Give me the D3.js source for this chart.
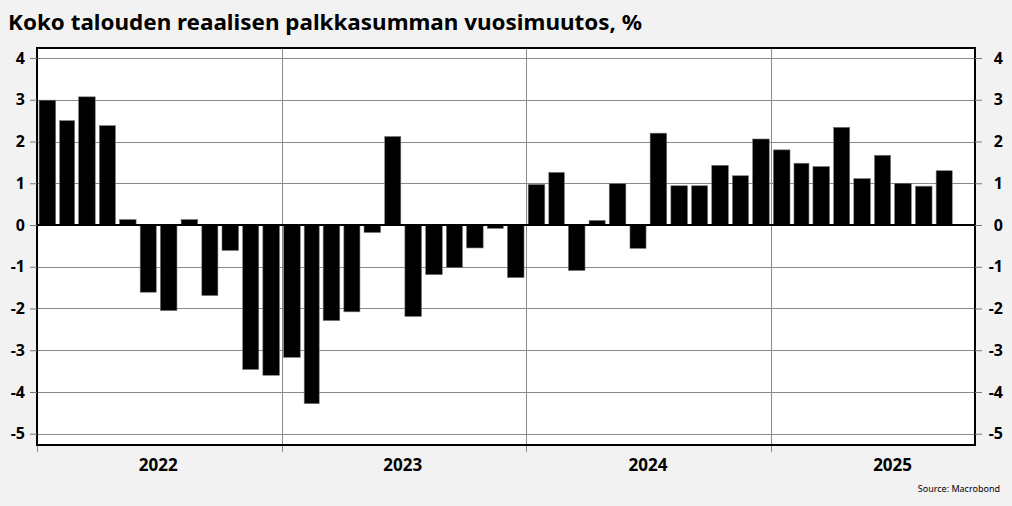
<!DOCTYPE html>
<html><head><meta charset="utf-8">
<script src="https://cdn.jsdelivr.net/npm/d3@7"></script>
<style>
body{margin:0;background:#f2f2f2;}
svg{display:block;}
text{font-family:"Noto Sans","Open Sans",sans-serif;}
</style></head>
<body><svg id="c" width="1012" height="506"></svg>
<script>
const title = "Koko talouden reaalisen palkkasumman vuosimuutos, %";
const source = "Source: Macrobond";
const months = d3.timeMonths(new Date(2022,0,1), new Date(2025,9,1));
const values = [2.99,2.50,3.07,2.38,0.13,-1.61,-2.05,0.13,-1.69,-0.61,-3.46,-3.60,
  -3.17,-4.28,-2.29,-2.08,-0.18,2.12,-2.19,-1.19,-1.02,-0.55,-0.08,-1.26,
  0.97,1.26,-1.09,0.11,0.99,-0.56,2.20,0.94,0.94,1.43,1.18,2.06,
  1.80,1.48,1.40,2.34,1.11,1.67,1.00,0.93,1.30];
const yTicks = [-5,-4,-3,-2,-1,0,1,2,3,4];
const yearLabels = ["2022","2023","2024","2025"];

const svg = d3.select("#c");
const L=37, R=975, T=48, B=445;
const x = d3.scaleTime().domain([new Date(2022,0,1), new Date(2025,10,1)]).range([L,R]);
const y = d3.scaleLinear().domain([-5.27,4.24]).range([B,T]);

svg.append("rect").attr("x",L).attr("y",T).attr("width",R-L).attr("height",B-T).attr("fill","#fff");

// horizontal grid
svg.append("g").selectAll("line").data(yTicks.filter(d=>d!==0)).join("line")
  .attr("x1",L).attr("x2",R).attr("y1",d=>Math.round(y(d))+0.5).attr("y2",d=>Math.round(y(d))+0.5)
  .attr("stroke","#8a8a8a").attr("stroke-width",1);
// vertical year lines
const yearStarts = [2022,2023,2024,2025].map(yr=>new Date(yr,0,1));
svg.append("g").selectAll("line").data(yearStarts).join("line")
  .attr("x1",d=>Math.round(x(d))+0.5).attr("x2",d=>Math.round(x(d))+0.5)
  .attr("y1",d=>d.getFullYear()===2022?B:T).attr("y2",B+7)
  .attr("stroke","#8a8a8a").attr("stroke-width",1);

// bars
svg.append("g").selectAll("rect").data(months).join("rect")
  .attr("x",(d,i)=>{const a=x(d),b=x(d3.timeMonth.offset(d,1));return a+(b-a)*0.1;})
  .attr("width",(d,i)=>{const a=x(d),b=x(d3.timeMonth.offset(d,1));return (b-a)*0.8;})
  .attr("y",(d,i)=>y(Math.max(0,values[i])))
  .attr("height",(d,i)=>Math.abs(y(values[i])-y(0)))
  .attr("fill","#000").attr("stroke","#777").attr("stroke-width",0.6);

// zero line
svg.append("line").attr("x1",L).attr("x2",R).attr("y1",y(0)).attr("y2",y(0)).attr("stroke","#000").attr("stroke-width",2);

// frame
svg.append("rect").attr("x",L).attr("y",T).attr("width",R-L).attr("height",B-T)
  .attr("fill","none").attr("stroke","#000").attr("stroke-width",2);

const fmt = d => String(d);
// y axes
const leftAx = d3.axisLeft(y).tickValues(yTicks).tickSize(7).tickPadding(5).tickFormat(fmt);
const gl = svg.append("g").attr("transform",`translate(${L},0)`).call(leftAx);
gl.select(".domain").remove();
gl.selectAll(".tick line").attr("stroke","#777");
gl.selectAll(".tick text").attr("font-size",16).attr("font-weight","bold").attr("fill","#000").attr("font-family","'Noto Sans',sans-serif");

const rightAx = d3.axisRight(y).tickValues(yTicks).tickSize(7).tickPadding(0).tickFormat(fmt);
const gr = svg.append("g").attr("transform",`translate(${R},0)`).call(rightAx);
gr.select(".domain").remove();
gr.selectAll(".tick line").attr("stroke","#777");
gr.selectAll(".tick text").attr("x",28).attr("text-anchor","end").attr("font-size",16).attr("font-weight","bold").attr("fill","#000").attr("font-family","'Noto Sans',sans-serif");

// year labels
svg.append("g").selectAll("text").data(yearLabels).join("text")
  .attr("x",d=>x(new Date(+d,6,1)))
  .attr("y",471).attr("text-anchor","middle").attr("font-size",17).attr("font-weight","bold").text(d=>d);

// title
svg.append("text").attr("x",8).attr("y",30).attr("font-size",22).attr("font-weight","bold")
  .attr("textLength",634).attr("lengthAdjust","spacingAndGlyphs").text(title);
svg.append("text").attr("x",1000).attr("y",492).attr("text-anchor","end").attr("font-size",9).text(source);
</script></body></html>
